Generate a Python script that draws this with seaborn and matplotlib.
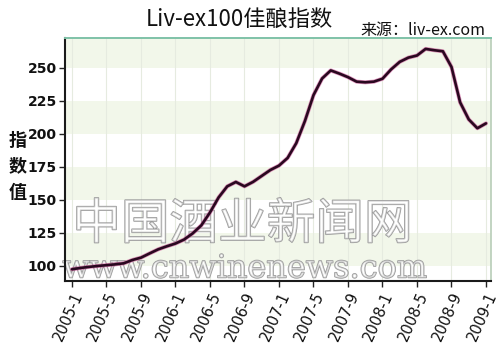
import numpy as np
import pandas as pd
import matplotlib
matplotlib.use("Agg")
import matplotlib.pyplot as plt
import matplotlib.patheffects as pe
import seaborn as sns

# ---- data ----
months = [f"{y}-{m}" for y in range(2005, 2009) for m in range(1, 13)] + ["2009-1"]
index_values = [
    97.5, 98.5, 99.3, 100.0, 100.6, 101.2, 102.0, 104.5, 106.3, 109.5, 112.6, 114.9,
    117.0, 120.0, 124.7, 130.8, 140.5, 151.9, 160.3, 163.6, 160.3, 163.7, 168.2, 172.7,
    176.0, 181.8, 193.0, 209.7, 229.4, 242.0, 248.1, 245.7, 243.0, 239.6, 239.1, 239.6,
    241.8, 248.9, 254.6, 257.8, 259.4, 264.4, 263.4, 262.6, 250.7, 223.9, 211.0, 204.3,
    208.0,
]
xtick_labels = ["2005-1", "2005-5", "2005-9", "2006-1", "2006-5", "2006-9", "2007-1",
                "2007-5", "2007-9", "2008-1", "2008-5", "2008-9", "2009-1"]
yticks = [100, 125, 150, 175, 200, 225, 250]
title = "Liv-ex100佳酿指数"
source = "来源：liv-ex.com"
ylabel_chars = ["指", "数", "值"]
watermark_cn = "中国酒业新闻网"
watermark_url = "www.cnwinenews.com"

df = pd.DataFrame({"month": months, "idx": range(len(months)), "value": index_values})

sns.set_theme(style="white")
plt.rcParams["font.family"] = ["Noto Sans CJK SC", "DejaVu Sans"]

fig = plt.figure(figsize=(5.0, 3.45), dpi=100)
ax = fig.add_axes([0.13, 0.1855, 0.852, 0.7045])

# background bands
ymin, ymax = 88.6, 272.7
band_edges = [75] + yticks + [300]
for i in range(len(band_edges) - 1):
    lo, hi = band_edges[i], band_edges[i + 1]
    if (lo // 25) % 2 == 0:
        ax.axhspan(lo, hi, color="#f2f7ea", zorder=0, lw=0)

tick_pos = [months.index(t) for t in xtick_labels]
for p in tick_pos:
    ax.axvline(p, color="#e6ebe0", lw=0.8, zorder=0.5)

# watermark (under the line)
outline = [pe.withStroke(linewidth=1.1, foreground="#9a9a9a")]
ax.text(0.485, 1 - 225 / 345, watermark_cn, transform=fig.transFigure, ha="center",
        va="center", fontsize=35, color=(1, 1, 1, 0.55), path_effects=outline, zorder=2)
ax.text(0.49, 1 - 269 / 345, watermark_url, transform=fig.transFigure, ha="center",
        va="center", fontsize=23, family="DejaVu Serif", color=(1, 1, 1, 0.55),
        path_effects=outline, zorder=2)

# line with magenta halo
sns.lineplot(data=df, x="idx", y="value", ax=ax, color="#c84a90", lw=2.9, zorder=3, alpha=0.6)
sns.lineplot(data=df, x="idx", y="value", ax=ax, color="#2a0820", lw=1.9, zorder=4)

ax.set_xlim(-0.81, 48.58)
ax.set_ylim(ymin, ymax)
ax.set_xticks(tick_pos)
ax.set_xticklabels(xtick_labels, rotation=66, ha="right", rotation_mode="anchor",
                   fontsize=10.5, family="DejaVu Sans", color="#111111")
ax.set_yticks(yticks)
ax.set_yticklabels([str(v) for v in yticks], fontsize=10, family="DejaVu Sans",
                   fontweight="bold", color="#111111")
ax.tick_params(axis="both", which="both", length=4, width=1, color="#222222",
               direction="out", pad=2, bottom=True, left=True)
ax.set_xlabel("")
ax.set_ylabel("")

for s in ["left", "bottom"]:
    ax.spines[s].set_color("#1a1a1a")
    ax.spines[s].set_linewidth(1.5)
ax.spines["top"].set_color("#7fc2a8")
ax.spines["top"].set_linewidth(1.4)
ax.spines["right"].set_color("#b8cdb8")
ax.spines["right"].set_linewidth(1.2)

# titles
fig.text(0.478, 0.943, title, ha="center", va="center", fontsize=16, color="#111111")
fig.text(0.97, 0.913, source, ha="right", va="center", fontsize=11.5, color="#111111")
for i, ch in enumerate(ylabel_chars):
    fig.text(0.036, 1 - (140 + i * 26) / 345, ch, ha="center", va="center",
             fontsize=13, fontweight="bold", color="#111111")

fig.savefig("out.png", dpi=100)
